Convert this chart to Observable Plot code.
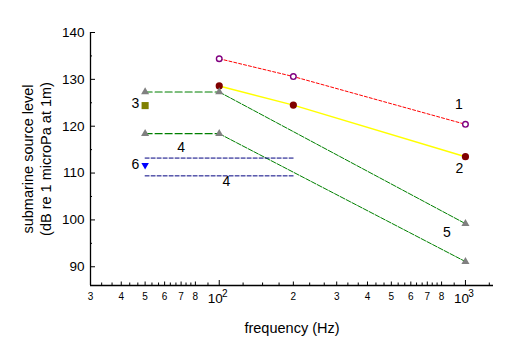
<!DOCTYPE html>
<html><head><meta charset="utf-8">
<script src="https://cdn.jsdelivr.net/npm/d3@7"></script>
<script src="https://cdn.jsdelivr.net/npm/@observablehq/plot@0.6"></script>
<style>body{margin:0;background:#fff} svg{display:block}</style>
</head><body><div id="chart"></div>
<script>
// Series 1 (red dashed, open purple circles)
const s1Freq = [100, 200, 1000];
const s1Level = [134.4, 130.6, 120.4];
// Series 2 (yellow, dark red dots)
const s2Freq = [100, 200, 1000];
const s2Level = [128.6, 124.5, 113.5];
// Series 3 (olive square)
const s3Freq = [50];
const s3Level = [124.4];
// Series 4 (navy dashed band)
const s4Freq = [50, 200];
const s4Upper = [113.2, 113.2];
const s4Lower = [109.4, 109.4];
// Series 5 (green, gray triangles)
const s5FlatFreq = [50, 100];
const s5UpperFlat = [127.3, 127.3];
const s5LowerFlat = [118.4, 118.4];
const s5SlopeFreq = [100, 1000];
const s5UpperSlope = [127.3, 99.2];
const s5LowerSlope = [118.4, 91.1];
const s5MarkFreq = [50, 100, 1000, 50, 100, 1000];
const s5MarkLevel = [127.3, 127.3, 99.2, 118.4, 118.4, 91.1];
// Series 6 (blue down triangle)
const s6Freq = [50];
const s6Level = [111.7];
// Series labels
const labelText = ["1", "2", "3", "4", "4", "5", "6"];
const labelFreq = [940, 945, 45.7, 70, 107, 840, 45.7];
const labelLevel = [124.6, 111.0, 124.8, 115.5, 108.3, 97.3, 111.8];
// Axis ticks
const xLabeledTicks = [30, 40, 50, 60, 70, 80, 200, 300, 400, 500, 600, 700, 800];
const xLabeledText = ["3", "4", "5", "6", "7", "8", "2", "3", "4", "5", "6", "7", "8"];
const xDecadeTicks = [100, 1000];
const xDecadeExp = ["2", "3"];
const xMinorTicks = [33.3, 36.7, 43.3, 46.7, 53.3, 56.7, 63.3, 66.7, 73.3, 76.7, 90,
  125, 150, 175, 233, 267, 333, 367, 433, 467, 533, 567, 633, 667, 733, 767, 900, 1250];
const yMajorTicks = [90, 100, 110, 120, 130, 140];
const yMinorTicks = [95, 105, 115, 125, 135];
const xDomain = [30, 1300];
const yDomain = [86, 140];

const pts = (xs, ys) => xs.map((x, i) => ({x, y: ys[i]}));
const W = 512, H = 357, ML = 90, MR = 19, MT = 32, MB = 72;
const FW = W - ML - MR, FH = H - MT - MB;

const chart = Plot.plot({
  width: W, height: H,
  marginLeft: ML, marginRight: MR, marginTop: MT, marginBottom: MB,
  style: {fontFamily: "'Liberation Sans', Arial, sans-serif", background: "#fff", color: "#000"},
  x: {type: "log", domain: xDomain, axis: null},
  y: {domain: yDomain},
  marks: [
    Plot.ruleX([xDomain[0]], {stroke: "#000", strokeWidth: 1.3}),
    Plot.ruleY([yDomain[0]], {stroke: "#000", strokeWidth: 1.3}),
    Plot.tickX(xDecadeTicks, {x: d => d, insetTop: FH - 5, stroke: "#000"}),
    Plot.tickX(xLabeledTicks, {x: d => d, insetTop: FH - 3.5, stroke: "#000"}),
    Plot.tickX(xMinorTicks, {x: d => d, insetTop: FH - 2.5, stroke: "#000"}),
    Plot.tickY(yMajorTicks, {y: d => d, insetRight: FW - 5, stroke: "#000"}),
    Plot.tickY(yMinorTicks, {y: d => d, insetRight: FW - 2, stroke: "#000"}),
    Plot.axisY(yMajorTicks, {tickSize: 0, tickPadding: 6, fontSize: 13.5, label: null}),
    Plot.text(xLabeledTicks, {x: d => d, frameAnchor: "bottom", text: d => xLabeledText[xLabeledTicks.indexOf(d)],
      fontSize: 10, dy: 11, lineAnchor: "middle", textAnchor: "middle"}),
    Plot.text(xDecadeTicks, {x: d => d, frameAnchor: "bottom", text: () => "10", fontSize: 13.5, dy: 13, dx: -4, lineAnchor: "middle", textAnchor: "middle"}),
    Plot.text(xDecadeTicks, {x: d => d, frameAnchor: "bottom", text: d => xDecadeExp[xDecadeTicks.indexOf(d)], fontSize: 10, dy: 8, dx: 5.5, lineAnchor: "middle", textAnchor: "middle"}),
    Plot.text(["submarine source level\n(dB re 1 microPa at 1m)"], {frameAnchor: "left", text: d => d, rotate: -90, dx: -54,
      fontSize: 14.5, lineHeight: 1.24, textAnchor: "middle", lineAnchor: "middle"}),
    Plot.text(["frequency (Hz)"], {frameAnchor: "bottom", text: d => d, dy: 43, fontSize: 14.5, lineAnchor: "middle", textAnchor: "middle"}),
    // data lines
    Plot.line(pts(s1Freq, s1Level), {x: "x", y: "y", stroke: "#ff0000", strokeWidth: 1, strokeDasharray: "3,2"}),
    Plot.line(pts(s2Freq, s2Level), {x: "x", y: "y", stroke: "#ffff00", strokeWidth: 1.5}),
    Plot.line(pts(s5FlatFreq, s5UpperFlat), {x: "x", y: "y", stroke: "#008000", strokeWidth: 1.2, strokeDasharray: "7,3"}),
    Plot.line(pts(s5FlatFreq, s5LowerFlat), {x: "x", y: "y", stroke: "#008000", strokeWidth: 1.2, strokeDasharray: "7,3"}),
    Plot.line(pts(s5SlopeFreq, s5UpperSlope), {x: "x", y: "y", stroke: "#008000", strokeWidth: 1, strokeDasharray: "5,1.5"}),
    Plot.line(pts(s5SlopeFreq, s5LowerSlope), {x: "x", y: "y", stroke: "#008000", strokeWidth: 1, strokeDasharray: "5,1.5"}),
    Plot.line(pts(s4Freq, s4Upper), {x: "x", y: "y", stroke: "#000080", strokeWidth: 1, strokeDasharray: "4,2"}),
    Plot.line(pts(s4Freq, s4Lower), {x: "x", y: "y", stroke: "#000080", strokeWidth: 1, strokeDasharray: "4,2"}),
    // markers
    Plot.dot(pts(s1Freq, s1Level), {x: "x", y: "y", r: 2.8, stroke: "#800080", fill: "#fff", strokeWidth: 1.4}),
    Plot.dot(pts(s2Freq, s2Level), {x: "x", y: "y", r: 3.6, fill: "#800000", stroke: "none"}),
    Plot.dot(pts(s5MarkFreq, s5MarkLevel), {x: "x", y: "y", symbol: "triangle", r: 3, fill: "#808080", stroke: "none"}),
    Plot.dot(pts(s3Freq, s3Level), {x: "x", y: "y", symbol: "square", r: 4, fill: "#808000", stroke: "none"}),
    Plot.dot(pts(s6Freq, s6Level), {x: "x", y: "y", symbol: "triangle", rotate: 180, r: 2.8, fill: "#0000ff", stroke: "none"}),
    // labels
    Plot.text(labelText.map((t, i) => ({t, x: labelFreq[i], y: labelLevel[i]})), {x: "x", y: "y", text: "t", fontSize: 14, fill: "#000"})
  ]
});
document.getElementById("chart").appendChild(chart);
</script>
</body></html>
